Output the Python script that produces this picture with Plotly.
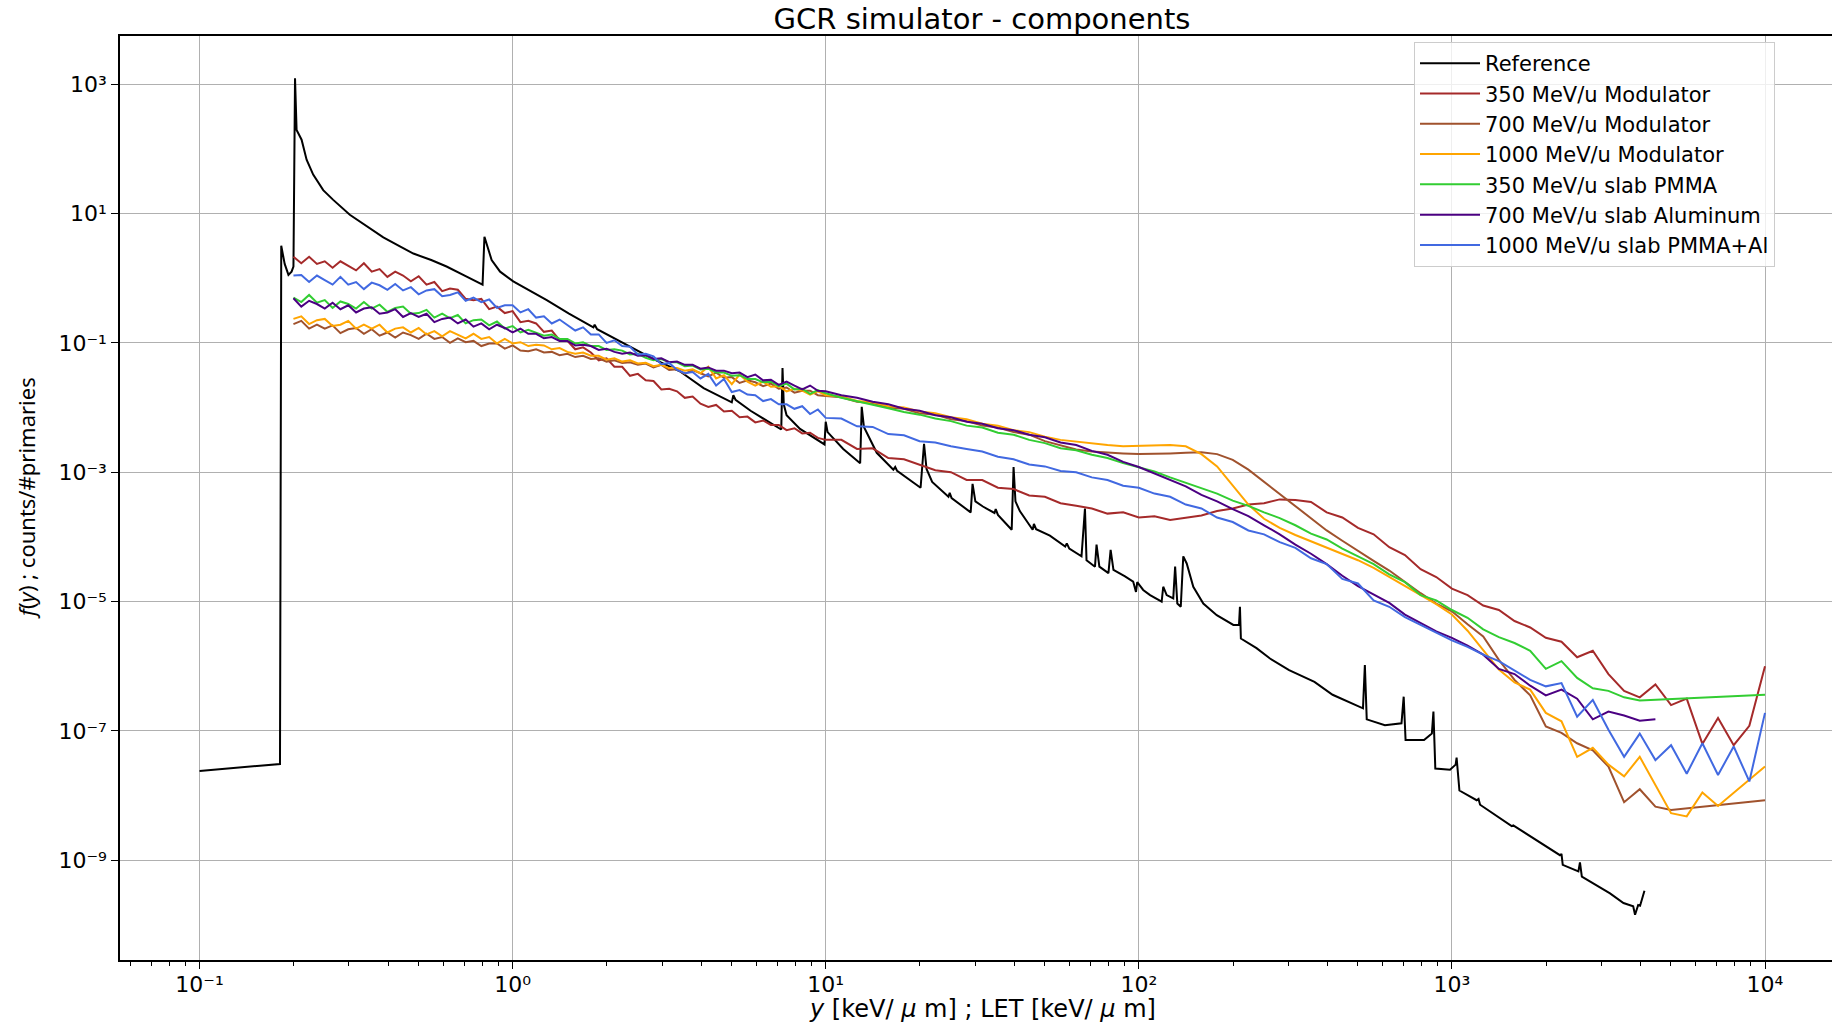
import plotly.graph_objects as go

# ---------------- data ----------------
# log10 of the bin centres y [keV/um] shared by the six beam configurations
bin_log10_x = [
    -0.700, -0.675, -0.650, -0.625, -0.600, -0.575, -0.550, -0.525, -0.500, -0.475,
    -0.450, -0.425, -0.400, -0.375, -0.350, -0.325, -0.300, -0.275, -0.250, -0.225,
    -0.200, -0.175, -0.150, -0.125, -0.100, -0.075, -0.050, -0.025, 0.000, 0.025,
    0.050, 0.075, 0.100, 0.125, 0.150, 0.175, 0.200, 0.225, 0.250, 0.275,
    0.300, 0.325, 0.350, 0.375, 0.400, 0.425, 0.450, 0.475, 0.500, 0.525,
    0.550, 0.575, 0.600, 0.625, 0.650, 0.675, 0.700, 0.725, 0.750, 0.775,
    0.800, 0.825, 0.850, 0.875, 0.900, 0.925, 0.950, 0.975,
    1.00, 1.05, 1.10, 1.15, 1.20, 1.25, 1.30, 1.35, 1.40, 1.45, 1.50, 1.55, 1.60, 1.65, 1.70, 1.75, 1.80, 1.85, 1.90, 1.95,
    2.00, 2.05, 2.10, 2.15, 2.20, 2.25, 2.30, 2.35, 2.40, 2.45, 2.50, 2.55, 2.60, 2.65, 2.70, 2.75, 2.80, 2.85, 2.90, 2.95,
    3.00, 3.05, 3.10, 3.15, 3.20, 3.25, 3.30, 3.35, 3.40, 3.45, 3.50, 3.55, 3.60, 3.65, 3.70, 3.75, 3.80, 3.85, 3.90, 3.95,
    4.00,
]

# log10 of f(y) (counts/#primaries) per configuration, one value per bin (None = empty bin)
mod350_log10_f = [
    0.33, 0.23, 0.33, 0.22, 0.26, 0.16, 0.26, 0.19, 0.12, 0.23,
    0.10, 0.14, 0.02, 0.10, 0.04, -0.05, 0.03, -0.10, -0.06, -0.20,
    -0.16, -0.18, -0.32, -0.34, -0.32, -0.48, -0.44, -0.54, -0.51, -0.68,
    -0.66, -0.70, -0.83, -0.81, -0.96, -0.97, -1.10, -1.07, -1.15, -1.27,
    -1.24, -1.37, -1.37, -1.51, -1.48, -1.58, -1.59, -1.72, -1.71, -1.75,
    -1.85, -1.83, -1.94, -1.99, -1.96, -2.06, -2.05, -2.15, -2.14, -2.23,
    -2.20, -2.27, -2.27, -2.35, -2.32, -2.40, -2.39, -2.47,
    -2.50, -2.50, -2.64, -2.63, -2.78, -2.80, -2.88, -2.97, -3.00, -3.12, -3.12, -3.24, -3.26, -3.36, -3.38, -3.48, -3.52, -3.56, -3.64, -3.62,
    -3.70, -3.68, -3.74, -3.70, -3.67, -3.60, -3.56, -3.50, -3.48, -3.42, -3.43, -3.46, -3.62, -3.70, -3.86, -3.96, -4.16, -4.28, -4.50, -4.62,
    -4.80, -4.90, -5.06, -5.13, -5.30, -5.40, -5.56, -5.62, -5.86, -5.76, -6.12, -6.38, -6.48, -6.28, -6.60, -6.50, -7.20, -6.80, -7.22, -6.92,
    -6.00,
]
mod700_log10_f = [
    -0.71, -0.66, -0.78, -0.72, -0.78, -0.73, -0.85, -0.79, -0.77, -0.86,
    -0.79, -0.89, -0.84, -0.92, -0.84, -0.88, -0.94, -0.86, -0.94, -0.91,
    -1.00, -0.93, -0.99, -0.97, -1.05, -1.01, -1.01, -1.09, -1.04, -1.12,
    -1.13, -1.10, -1.15, -1.14, -1.19, -1.17, -1.22, -1.20, -1.25, -1.24,
    -1.29, -1.27, -1.31, -1.30, -1.34, -1.32, -1.38, -1.34, -1.42, -1.41,
    -1.48, -1.42, -1.47, -1.52, -1.46, -1.54, -1.53, -1.62, -1.58, -1.61,
    -1.67, -1.63, -1.71, -1.69, -1.77, -1.74, -1.74, -1.81,
    -1.82, -1.84, -1.91, -1.93, -2.00, -2.02, -2.09, -2.11, -2.18, -2.21, -2.28, -2.31, -2.38, -2.42, -2.52, -2.59, -2.65, -2.68, -2.70, -2.71,
    -2.72, -2.72, -2.71, -2.70, -2.69, -2.72, -2.81, -2.96, -3.15, -3.33, -3.52, -3.72, -3.90, -4.06, -4.22, -4.37, -4.52, -4.70, -4.87, -5.03,
    -5.15, -5.35, -5.54, -5.90, -6.21, -6.45, -6.93, -7.03, -7.19, -7.30, -7.55, -8.10, -7.90, -8.17, -8.22, None, None, None, None, None,
    -8.07,
]
mod1000_log10_f = [
    -0.63, -0.59, -0.71, -0.65, -0.63, -0.74, -0.72, -0.66, -0.78, -0.72,
    -0.78, -0.72, -0.84, -0.78, -0.76, -0.84, -0.77, -0.87, -0.82, -0.90,
    -0.82, -0.87, -0.93, -0.86, -0.94, -0.91, -1.01, -0.94, -1.01, -0.99,
    -1.05, -1.03, -1.04, -1.10, -1.08, -1.14, -1.17, -1.15, -1.20, -1.20,
    -1.26, -1.24, -1.29, -1.27, -1.32, -1.31, -1.36, -1.34, -1.39, -1.39,
    -1.43, -1.41, -1.47, -1.37, -1.55, -1.50, -1.64, -1.49, -1.60, -1.66,
    -1.60, -1.68, -1.67, -1.75, -1.71, -1.74, -1.80, -1.75,
    -1.81, -1.83, -1.90, -1.92, -1.98, -2.00, -2.06, -2.09, -2.15, -2.18, -2.25, -2.28, -2.35, -2.38, -2.45, -2.50, -2.53, -2.55, -2.58, -2.60,
    -2.59, -2.58, -2.58, -2.60, -2.72, -2.91, -3.20, -3.50, -3.72, -3.86, -3.97, -4.07, -4.16, -4.26, -4.36, -4.48, -4.62, -4.76, -4.90, -5.04,
    -5.20, -5.45, -5.75, -6.05, -6.25, -6.36, -6.72, -6.85, -7.40, -7.26, -7.52, -7.70, -7.40, -7.84, -8.27, -8.32, -7.95, -8.16, None, None,
    -7.55,
]
pmma350_log10_f = [
    -0.30, -0.37, -0.26, -0.38, -0.34, -0.46, -0.36, -0.40, -0.47, -0.37,
    -0.47, -0.41, -0.52, -0.46, -0.44, -0.55, -0.54, -0.49, -0.61, -0.55,
    -0.62, -0.57, -0.70, -0.65, -0.64, -0.73, -0.67, -0.78, -0.74, -0.84,
    -0.80, -0.84, -0.89, -0.87, -0.94, -0.94, -1.01, -0.99, -1.05, -1.05,
    -1.11, -1.10, -1.12, -1.18, -1.17, -1.23, -1.27, -1.25, -1.30, -1.30,
    -1.36, -1.35, -1.41, -1.40, -1.46, -1.46, -1.51, -1.50, -1.56, -1.56,
    -1.61, -1.60, -1.67, -1.63, -1.72, -1.71, -1.79, -1.73,
    -1.78, -1.85, -1.90, -1.96, -2.01, -2.07, -2.11, -2.17, -2.21, -2.28, -2.31, -2.39, -2.42, -2.50, -2.55, -2.63, -2.66, -2.73, -2.78, -2.86,
    -2.92, -2.99, -3.08, -3.16, -3.24, -3.33, -3.44, -3.52, -3.62, -3.71, -3.82, -3.95, -4.04, -4.18, -4.30, -4.42, -4.58, -4.70, -4.90, -4.98,
    -5.13, -5.25, -5.43, -5.55, -5.64, -5.76, -6.04, -5.92, -6.18, -6.34, -6.38, -6.48, -6.53, None, None, None, None, None, None, None,
    -6.44,
]
al700_log10_f = [
    -0.31, -0.44, -0.35, -0.40, -0.47, -0.38, -0.48, -0.42, -0.53, -0.47,
    -0.45, -0.55, -0.53, -0.48, -0.60, -0.54, -0.60, -0.55, -0.68, -0.63,
    -0.61, -0.70, -0.64, -0.75, -0.70, -0.79, -0.72, -0.77, -0.84, -0.78,
    -0.86, -0.86, -0.93, -0.91, -0.97, -0.97, -1.04, -1.03, -1.05, -1.11,
    -1.09, -1.14, -1.17, -1.15, -1.20, -1.19, -1.25, -1.24, -1.30, -1.29,
    -1.34, -1.34, -1.40, -1.38, -1.43, -1.43, -1.47, -1.46, -1.53, -1.49,
    -1.58, -1.57, -1.65, -1.60, -1.66, -1.72, -1.66, -1.74,
    -1.75, -1.81, -1.85, -1.91, -1.95, -2.02, -2.05, -2.12, -2.15, -2.22, -2.25, -2.32, -2.35, -2.42, -2.46, -2.54, -2.58, -2.67, -2.73, -2.84,
    -2.92, -3.02, -3.12, -3.22, -3.35, -3.45, -3.57, -3.68, -3.82, -3.96, -4.12, -4.26, -4.42, -4.60, -4.76, -4.89, -5.02, -5.20, -5.33, -5.46,
    -5.56, -5.68, -5.82, -6.04, -6.12, -6.30, -6.45, -6.36, -6.50, -6.82, -6.70, -6.76, -6.84, -6.82, None, None, None, None, None, None,
    None,
]
pmmaal1000_log10_f = [
    0.04, 0.05, -0.06, 0.04, -0.03, -0.10, 0.02, -0.10, -0.06, -0.17,
    -0.07, -0.11, -0.18, -0.09, -0.19, -0.14, -0.25, -0.19, -0.17, -0.28,
    -0.26, -0.22, -0.35, -0.30, -0.37, -0.33, -0.46, -0.42, -0.42, -0.53,
    -0.48, -0.61, -0.59, -0.70, -0.64, -0.72, -0.81, -0.76, -0.87, -0.87,
    -1.00, -0.96, -1.05, -1.06, -1.18, -1.17, -1.21, -1.33, -1.31, -1.42,
    -1.47, -1.45, -1.55, -1.48, -1.66, -1.56, -1.76, -1.73, -1.80, -1.81,
    -1.90, -1.87, -1.95, -1.95, -2.02, -1.98, -2.10, -2.03,
    -2.16, -2.17, -2.29, -2.30, -2.41, -2.43, -2.52, -2.54, -2.60, -2.64, -2.68, -2.76, -2.80, -2.88, -2.91, -2.98, -3.00, -3.08, -3.12, -3.21,
    -3.24, -3.33, -3.38, -3.50, -3.56, -3.70, -3.77, -3.90, -3.96, -4.08, -4.17, -4.33, -4.42, -4.65, -4.72, -4.98, -5.08, -5.24, -5.36, -5.48,
    -5.60, -5.70, -5.82, -5.92, -6.06, -6.21, -6.31, -6.26, -6.78, -6.52, -6.98, -7.40, -7.04, -7.45, -7.22, -7.66, -7.19, -7.68, -7.24, -7.78,
    -6.72,
]

# Reference spectrum: log10 of y and of f(y)
ref_log10_x = [
    -1.000, -0.743, -0.739, -0.728, -0.716, -0.706, -0.700, -0.695, -0.690, -0.682, -0.674, -0.658, -0.637, -0.605,
    -0.573, -0.520, -0.466, -0.413, -0.360, -0.317, -0.260, -0.211, -0.150, -0.096, -0.090, -0.083, -0.067, -0.040,
    0.002, 0.109, 0.180, 0.258, 0.262, 0.270, 0.375, 0.450, 0.534, 0.610, 0.700, 0.705, 0.712, 0.760,
    0.858, 0.862, 0.866, 0.875, 0.918, 0.996, 1.000, 1.006, 1.056, 1.110, 1.115, 1.122, 1.163, 1.216,
    1.222, 1.228, 1.303, 1.314, 1.322, 1.340, 1.392, 1.396, 1.402, 1.463, 1.469, 1.478, 1.502, 1.539,
    1.543, 1.550, 1.594, 1.600, 1.606, 1.620, 1.661, 1.665, 1.672, 1.716, 1.765, 1.770, 1.778, 1.817,
    1.828, 1.833, 1.860, 1.865, 1.874, 1.903, 1.910, 1.919, 1.956, 1.982, 1.991, 1.995, 2.014, 2.036,
    2.073, 2.078, 2.089, 2.110, 2.116, 2.123, 2.134, 2.142, 2.153, 2.174, 2.206, 2.249, 2.302, 2.320,
    2.323, 2.326, 2.376, 2.419, 2.480, 2.561, 2.619, 2.716, 2.722, 2.728, 2.786, 2.839, 2.846, 2.852,
    2.911, 2.936, 2.941, 2.947, 2.994, 3.012, 3.015, 3.024, 3.079, 3.085, 3.090, 3.191, 3.196, 3.276,
    3.345, 3.350, 3.354, 3.404, 3.409, 3.415, 3.505, 3.548, 3.579, 3.585, 3.595, 3.601, 3.615,
]
ref_log10_f = [
    -7.62, -7.51, 0.50, 0.22, 0.05, 0.10, 0.18, 3.09, 2.29, 2.21, 2.14, 1.83, 1.60, 1.36,
    1.21, 0.98, 0.80, 0.63, 0.49, 0.38, 0.28, 0.18, 0.03, -0.10, 0.64, 0.52, 0.28, 0.10,
    -0.05, -0.34, -0.55, -0.76, -0.72, -0.79, -1.06, -1.25, -1.44, -1.70, -1.92, -1.81, -1.88, -2.05,
    -2.34, -1.39, -1.95, -2.12, -2.33, -2.57, -2.22, -2.38, -2.64, -2.86, -1.99, -2.30, -2.70, -2.96,
    -2.92, -2.98, -3.24, -2.56, -2.95, -3.15, -3.38, -3.32, -3.40, -3.62, -3.18, -3.45, -3.53, -3.63,
    -3.57, -3.66, -3.89, -2.92, -3.45, -3.60, -3.89, -3.80, -3.88, -3.98, -4.15, -4.10, -4.18, -4.30,
    -3.56, -4.36, -4.46, -4.12, -4.46, -4.56, -4.20, -4.51, -4.61, -4.69, -4.85, -4.70, -4.82, -4.90,
    -5.00, -4.77, -4.90, -4.95, -4.46, -5.03, -5.08, -4.30, -4.41, -4.77, -5.03, -5.21, -5.36, -5.36,
    -5.08, -5.57, -5.72, -5.88, -6.06, -6.24, -6.44, -6.65, -5.98, -6.82, -6.91, -6.88, -6.47, -7.14,
    -7.14, -7.04, -6.70, -7.58, -7.60, -7.52, -7.41, -7.92, -8.07, -8.05, -8.14, -8.47, -8.46, -8.71,
    -8.92, -8.90, -9.07, -9.17, -9.03, -9.25, -9.51, -9.66, -9.71, -9.84, -9.69, -9.70, -9.47,
]

series_names = [
    "350 MeV/u Modulator", "700 MeV/u Modulator", "1000 MeV/u Modulator",
    "350 MeV/u slab PMMA", "700 MeV/u slab Aluminum", "1000 MeV/u slab PMMA+Al",
]
series_values = [mod350_log10_f, mod700_log10_f, mod1000_log10_f,
                 pmma350_log10_f, al700_log10_f, pmmaal1000_log10_f]
series_colors = ["#a52a2a", "#a0522d", "#ffa500", "#32cd32", "#4b0082", "#4169e1"]

x_tick_exps = [-1, 0, 1, 2, 3, 4]
y_tick_exps = [3, 1, -1, -3, -5, -7, -9]

for vals in series_values:
    assert len(vals) == len(bin_log10_x), len(vals)
assert len(ref_log10_x) == len(ref_log10_f), (len(ref_log10_x), len(ref_log10_f))


def lin(v):
    return [None if a is None else 10 ** a for a in v]


SUP = str.maketrans("-0123456789", "\u207b\u2070\u00b9\u00b2\u00b3\u2074\u2075\u2076\u2077\u2078\u2079")


def sup(e):
    return "10" + str(e).translate(SUP)


fig = go.Figure()
fig.add_trace(go.Scatter(x=lin(ref_log10_x), y=lin(ref_log10_f), mode="lines",
                         name="Reference", line=dict(color="black", width=2)))
xb = lin(bin_log10_x)
for name, vals, col in zip(series_names, series_values, series_colors):
    fig.add_trace(go.Scatter(x=xb, y=lin(vals), mode="lines", name=name,
                             connectgaps=True, line=dict(color=col, width=2)))

# axes geometry (pixels of the 1832x1023 page)
L, T, B = 120, 36, 960
W, H = 1832, 1023
x_range = [-1.254, 4.214]
y_range = [-10.54, 3.743]

minor_x = [m * 10.0 ** e for e in range(-2, 5) for m in range(2, 10)]

fig.update_layout(
    width=W, height=H,
    margin=dict(l=L, r=0, t=T, b=H - B, pad=0),
    plot_bgcolor="white", paper_bgcolor="white",
    font=dict(family="DejaVu Sans", size=21, color="black"),
    title=dict(text="GCR simulator - components", xref="container", x=982 / W, xanchor="center",
               yref="container", y=1 - 19 / H, yanchor="middle",
               font=dict(family="DejaVu Sans", size=29, color="black")),
    legend=dict(x=(1414 - L) / (W - L), xanchor="left", y=1 - (42 - T) / (B - T), yanchor="top",
                bgcolor="rgba(255,255,255,0.8)", bordercolor="#cccccc", borderwidth=1,
                font=dict(family="DejaVu Sans", size=21, color="black"), itemwidth=60,
                tracegroupgap=0),
    showlegend=True,
)
fig.update_xaxes(
    type="log", range=x_range,
    tickvals=[10.0 ** e for e in x_tick_exps], ticktext=[sup(e) for e in x_tick_exps],
    ticks="outside", ticklen=7, tickwidth=1.2, tickcolor="black",
    showline=True, linecolor="black", linewidth=1.5, mirror=True,
    showgrid=True, gridcolor="#b0b0b0", gridwidth=1, zeroline=False,
    tickfont=dict(size=22), ticklabelstandoff=-3,
    minor=dict(tickvals=minor_x, ticks="outside", ticklen=4, tickwidth=1, tickcolor="black", showgrid=False),
)
fig.update_yaxes(
    type="log", range=y_range,
    tickvals=[10.0 ** e for e in y_tick_exps], ticktext=[sup(e) for e in y_tick_exps],
    ticks="outside", ticklen=7, tickwidth=1.2, tickcolor="black",
    showline=True, linecolor="black", linewidth=1.5, mirror=False,
    showgrid=True, gridcolor="#b0b0b0", gridwidth=1, zeroline=False,
    tickfont=dict(size=22),
)

fig.add_annotation(text="<i>f</i>(<i>y</i>) ; counts/#primaries", xref="paper", yref="paper",
                   x=0, y=0.5, xshift=-(L - 26), xanchor="center", yanchor="middle",
                   textangle=-90, showarrow=False,
                   font=dict(family="Noto Sans", size=22, color="black"))
fig.add_annotation(text="<i>y</i> [keV/ <i>\u03bc</i> m] ; LET [keV/ <i>\u03bc</i> m]",
                   xref="paper", yref="paper", x=(982 - L) / (W - L), y=0, yshift=-(1009 - B),
                   xanchor="center", yanchor="middle", showarrow=False,
                   font=dict(family="DejaVu Sans", size=24, color="black"))

fig.write_html("out.html", config={"displayModeBar": False},
               post_script="document.body.style.margin='0px';document.body.style.overflow='hidden';")
